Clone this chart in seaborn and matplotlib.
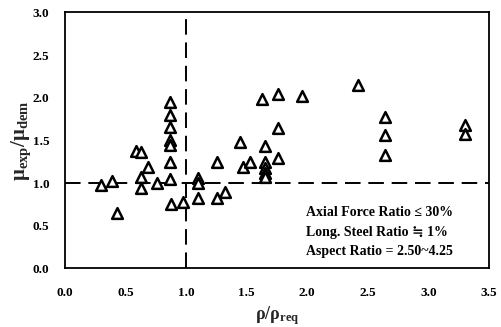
import matplotlib
matplotlib.use("Agg")
import matplotlib.pyplot as plt
import seaborn as sns
import pandas as pd

# Confinement ratio rho/rho_req and ductility ratio mu_exp/mu_dem for each specimen
rho_ratio = [0.30, 0.39, 0.43, 0.59, 0.63, 0.63, 0.63, 0.69, 0.76,
             0.87, 0.87, 0.87, 0.87, 0.87, 0.87, 0.87, 0.88, 0.975,
             1.10, 1.10, 1.10, 1.26, 1.26, 1.32, 1.45, 1.47, 1.53,
             1.63, 1.65, 1.65, 1.65, 1.65, 1.65, 1.76, 1.76, 1.76,
             1.96, 2.42, 2.64, 2.64, 2.64, 3.30, 3.30]
mu_ratio = [0.98, 1.03, 0.65, 1.38, 1.37, 1.07, 0.94, 1.19, 1.00,
            1.95, 1.80, 1.66, 1.50, 1.45, 1.25, 1.05, 0.76, 0.78,
            1.06, 1.00, 0.82, 1.25, 0.82, 0.90, 1.48, 1.19, 1.25,
            1.98, 1.43, 1.25, 1.18, 1.12, 1.07, 2.04, 1.64, 1.30,
            2.02, 2.15, 1.77, 1.56, 1.33, 1.68, 1.57]

x_ticks = [0.0, 0.5, 1.0, 1.5, 2.0, 2.5, 3.0, 3.5]
y_ticks = [0.0, 0.5, 1.0, 1.5, 2.0, 2.5, 3.0]
notes = ["Axial Force Ratio \u2264 30%",
         "Long. Steel Ratio \u2252 1%",
         "Aspect Ratio = 2.50~4.25"]

df = pd.DataFrame({"rho": rho_ratio, "mu": mu_ratio})

sns.set_theme(style="white")
serif = ["Liberation Serif", "DejaVu Serif", "DejaVu Sans"]
plt.rcParams["font.family"] = serif
plt.rcParams["mathtext.fontset"] = "custom"
plt.rcParams["mathtext.rm"] = "Liberation Serif"
plt.rcParams["mathtext.bf"] = "Liberation Serif:bold"
plt.rcParams["mathtext.it"] = "Liberation Serif:italic"

fig = plt.figure(figsize=(5.02, 3.27), dpi=100)
ax = fig.add_axes([0.129, 0.179, 0.845, 0.783])

# reference lines at rho/rho_req = 1 and mu_exp/mu_dem = 1
ax.axvline(1.0, color="black", lw=1.4, ls=(0, (8, 4)), zorder=1)
ax.axhline(1.0, color="black", lw=1.4, ls=(0, (8, 4)), zorder=1)

sns.scatterplot(data=df, x="rho", y="mu", ax=ax, marker="^", s=60,
                facecolor="white", edgecolor="black", linewidth=1.8,
                zorder=3, legend=False)

ax.set_xlim(0, 3.5)
ax.set_ylim(0, 3.0)
ax.set_xticks(x_ticks)
ax.set_yticks(y_ticks)
ax.set_xticklabels([f"{v:.1f}" for v in x_ticks], fontweight="bold", fontsize=9.5)
ax.set_yticklabels([f"{v:.1f}" for v in y_ticks], fontweight="bold", fontsize=9.5)
ax.tick_params(axis="x", direction="in", length=3, width=0.8, pad=13,
               colors="black")
ax.tick_params(axis="y", direction="in", length=3, width=0.8, pad=11,
               colors="black")

for sp in ax.spines.values():
    sp.set_color("black")
    sp.set_linewidth(1.3)

ax.set_xlabel(r"$\mathbf{\rho/\rho_{req}}$", fontsize=13, labelpad=4)
ax.set_ylabel(r"$\mathbf{\mu_{exp}/\mu_{dem}}$", fontsize=15, labelpad=0)

for i, line in enumerate(notes):
    ax.text(1.99, 0.65 - i * 0.225, line, fontsize=10, fontweight="bold",
            family=serif, va="center", ha="left", color="black")

fig.savefig("out.png", dpi=100)
